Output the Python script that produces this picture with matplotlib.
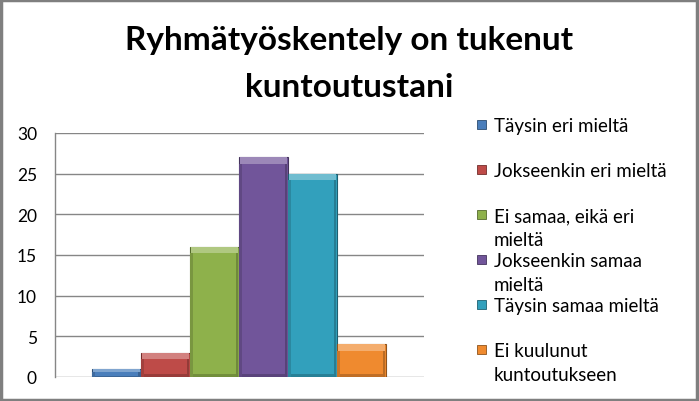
import matplotlib
matplotlib.use("Agg")
import matplotlib.pyplot as plt
from matplotlib.patches import Rectangle
from matplotlib.colors import to_rgb

plt.rcParams['font.family'] = ['Lato', 'DejaVu Sans']

title_lines = ["Ryhmätyöskentely on tukenut", "kuntoutustani"]
labels = ["Täysin eri mieltä",
          "Jokseenkin eri mieltä",
          "Ei samaa, eikä eri\nmieltä",
          "Jokseenkin samaa\nmieltä",
          "Täysin samaa mieltä",
          "Ei kuulunut\nkuntoutukseen"]
values = [1, 3, 16, 27, 25, 4]
colors = ['#4A7EBB', '#BE4B48', '#8EB14B', '#71559A', '#32A0BC', '#EF8A2F']
yticks = [0, 5, 10, 15, 20, 25, 30]


def shade(c, f):
    r, g, b = to_rgb(c)
    if f < 1:
        return (r * f, g * f, b * f)
    f = f - 1
    return (r + (1 - r) * f, g + (1 - g) * f, b + (1 - b) * f)


W, H = 699, 402
fig = plt.figure(figsize=(W / 100, H / 100), dpi=100)
# outer chart frame
fig.patches.append(Rectangle((0.002, 0.003), 0.995, 0.994, transform=fig.transFigure,
                             fill=False, edgecolor='#7f7f7f', linewidth=2.5))

ax = fig.add_axes([55 / W, 1 - 378 / H, (424 - 55) / W, (378 - 134) / H])

x = list(range(len(values)))
ax.bar(x, values, width=1.0, color=colors,
       edgecolor=[shade(c, 0.6) for c in colors], linewidth=0.8, zorder=3)

# bevel look: light band on top, darker band at the bottom
for xi, v, c in zip(x, values, colors):
    band = min(0.75, v * 0.35)
    ax.bar(xi, band, bottom=v - band, width=0.96, color=shade(c, 1.3),
           linewidth=0, zorder=4)
    ax.bar(xi, band * 0.5, bottom=0, width=0.96, color=shade(c, 0.8),
           linewidth=0, zorder=4)
    ax.bar(xi - 0.46, v - band, width=0.06, color=shade(c, 0.85),
           linewidth=0, zorder=4)
    ax.bar(xi + 0.46, v - band, width=0.06, color=shade(c, 0.78),
           linewidth=0, zorder=4)

ax.set_xlim(-1.255, 6.276)
ax.set_ylim(0, 30)
ax.set_yticks(yticks)
ax.set_xticks([])
ax.yaxis.grid(True, color='#868686', linewidth=1.0, zorder=0)
ax.set_axisbelow(True)
for s in ['top', 'right', 'bottom']:
    ax.spines[s].set_visible(False)
ax.spines['left'].set_color('#868686')
ax.spines['left'].set_linewidth(1.0)
ax.tick_params(axis='y', length=0, pad=13, labelsize=12.5, labelcolor='#000000')

# title, two centred lines
for line, base in zip(title_lines, [50, 97]):
    fig.text(0.5, 1 - base / H, line, ha='center', va='baseline', fontsize=24,
             fontweight='bold')

# legend, fixed spacing like the spreadsheet chart
leg_top = 125
step = 45
for i, (lab, c) in enumerate(zip(labels, colors)):
    yc = leg_top + i * step
    fy = 1 - yc / H
    fig.patches.append(Rectangle((477 / W, fy - 4.5 / H), 9 / W, 9 / H,
                                 transform=fig.transFigure, facecolor=c,
                                 edgecolor=shade(c, 0.6), linewidth=0.6))
    for k, part in enumerate(lab.split("\n")):
        fig.text(494 / W, 1 - (yc + 7 + k * 24) / H, part, ha='left',
                 va='baseline', fontsize=13.5)

fig.savefig("out.png", dpi=100)
